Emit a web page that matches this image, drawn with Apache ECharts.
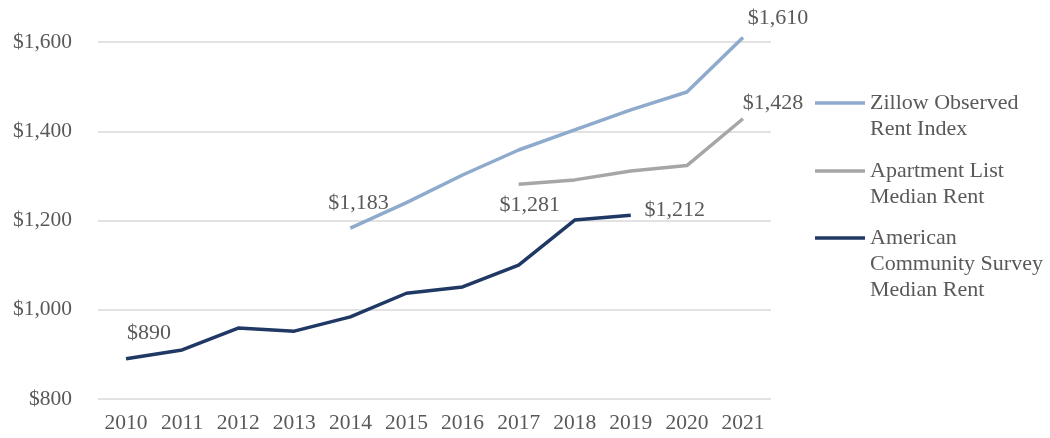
<!DOCTYPE html>
<html>
<head>
<meta charset="utf-8">
<script src="https://cdn.jsdelivr.net/npm/echarts@6/dist/echarts.min.js"></script>
<style>
  html, body { margin: 0; padding: 0; background: #fff; }
  #chart { width: 1050px; height: 438px; }
</style>
</head>
<body>
<div id="chart"></div>
<script>
// Median monthly rent by source, 2010–2021
const years = ['2010', '2011', '2012', '2013', '2014', '2015', '2016', '2017', '2018', '2019', '2020', '2021'];
const zillowRent = [null, null, null, null, 1183, 1240, 1302, 1358, 1403, 1448, 1488, 1610];
const apartmentListRent = [null, null, null, null, null, null, null, 1281, 1291, 1311, 1323, 1428];
const acsRent = [890, 910, 959, 952, 984, 1037, 1051, 1100, 1201, 1212, null, null];
const yTicks = [800, 1000, 1200, 1400, 1600];

const seriesNames = [
  'Zillow Observed\nRent Index',
  'Apartment List\nMedian Rent',
  'American\nCommunity Survey\nMedian Rent'
];
const colors = ['#8eaacc', '#a6a6a6', '#1f3864'];

// which points carry a value label, and where the label sits relative to the point
const labelOffsets = [
  { 4: [8, -25], 11: [35, -19] },
  { 7: [11, 21], 11: [30, -16] },
  { 0: [23, -26], 9: [44, -5] }
];

const fmt = v => '$' + v.toLocaleString('en-US');
const textColor = '#595959';
const serif = '"Liberation Serif", "DejaVu Serif", serif';

function buildData(values, offsets) {
  return values.map((v, i) => {
    if (v == null) return null;
    if (offsets[i]) {
      return {
        value: v,
        label: { show: true, position: 'inside', offset: offsets[i], formatter: p => fmt(p.value) }
      };
    }
    return v;
  });
}

const allValues = [zillowRent, apartmentListRent, acsRent];

const series = allValues.map((vals, k) => ({
  name: seriesNames[k],
  type: 'line',
  data: buildData(vals, labelOffsets[k]),
  symbol: 'circle',
  symbolSize: 0,
  clip: false,
  connectNulls: false,
  lineStyle: { color: colors[k], width: 3.5 },
  itemStyle: { color: colors[k] },
  label: { show: false, color: textColor, fontFamily: serif, fontSize: 22 },
  emphasis: { disabled: true },
  z: 3 - k
}));

// one legend block per series; blank lines are prepended so the swatch
// sits level with the first line of its (multi-line) name
const lineH = 26;
const legendIconY = [103, 171, 238];
const legends = seriesNames.map((name, k) => {
  const n = name.split('\n').length;
  const boxH = (2 * n - 1) * lineH;
  return {
    data: [name],
    formatter: s => '\n'.repeat(s.split('\n').length - 1) + s,
    left: 815,
    top: legendIconY[k] - boxH / 2,
    padding: 0,
    icon: 'rect',
    itemWidth: 50,
    itemHeight: 3.5,
    selectedMode: false,
    textStyle: { color: textColor, fontFamily: serif, fontSize: 22, lineHeight: lineH }
  };
});

const chart = echarts.init(document.getElementById('chart'), null, { renderer: 'canvas' });
chart.setOption({
  animation: false,
  backgroundColor: '#ffffff',
  grid: { left: 98, right: 279, top: 42, bottom: 39, containLabel: false },
  legend: legends,
  xAxis: {
    type: 'category',
    data: years,
    boundaryGap: true,
    axisLine: { show: false },
    axisTick: { show: false },
    axisLabel: { color: textColor, fontFamily: serif, fontSize: 21.5, margin: 13 }
  },
  yAxis: {
    type: 'value',
    min: yTicks[0],
    max: yTicks[yTicks.length - 1],
    interval: 200,
    axisLine: { show: false },
    axisTick: { show: false },
    splitLine: { lineStyle: { color: '#d9d9d9', width: 1.5 } },
    axisLabel: { color: textColor, fontFamily: serif, fontSize: 21.5, margin: 26, formatter: v => fmt(v) }
  },
  series: series
});
</script>
</body>
</html>
